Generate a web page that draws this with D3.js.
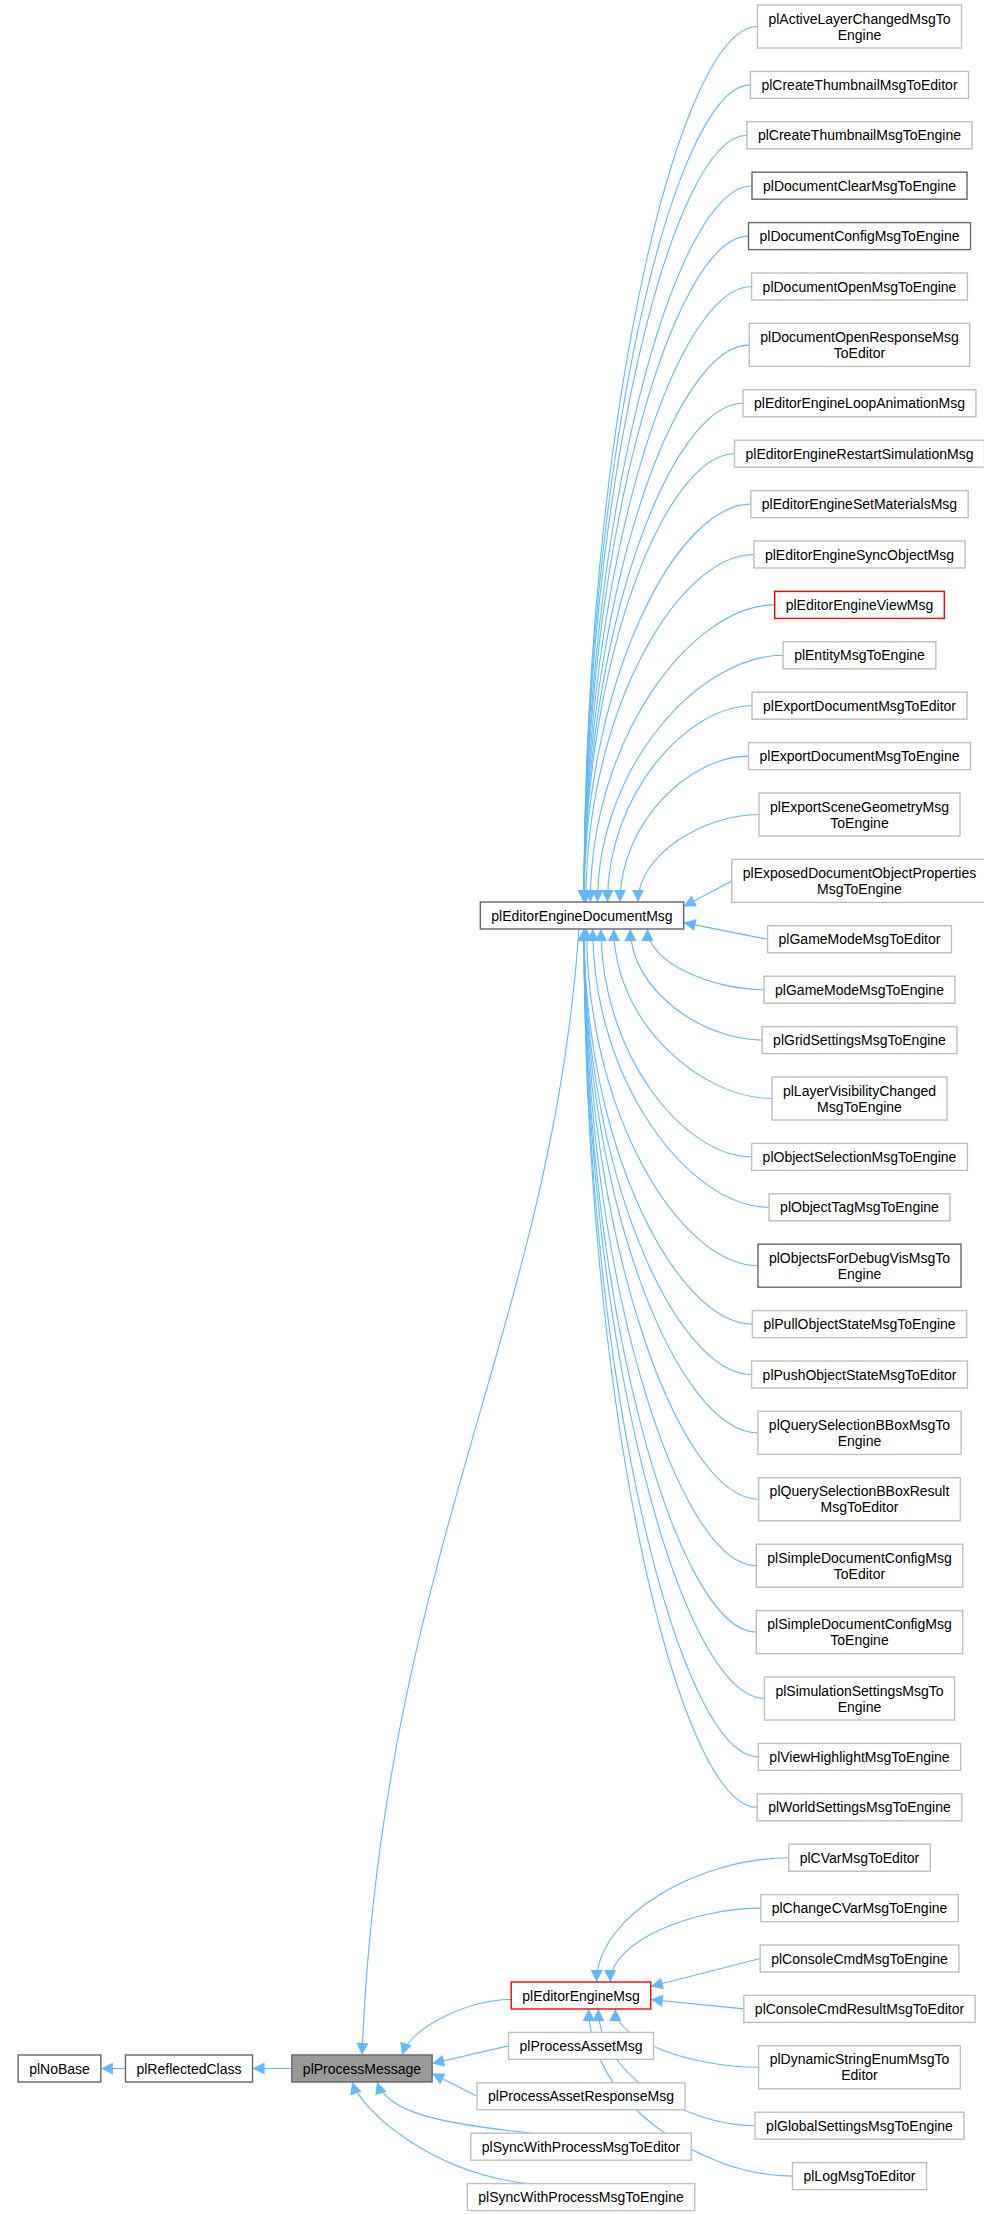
<!DOCTYPE html>
<html><head><meta charset="utf-8">
<script src="https://cdn.jsdelivr.net/npm/d3@7"></script>
<style>body{margin:0;background:#fff}</style>
</head><body><svg id="g"></svg>
<script>
// children of plEditorEngineDocumentMsg (top to bottom), "|" splits lines
const docChildren = [
  "plActiveLayerChangedMsgTo|Engine", "plCreateThumbnailMsgToEditor", "plCreateThumbnailMsgToEngine",
  "plDocumentClearMsgToEngine", "plDocumentConfigMsgToEngine", "plDocumentOpenMsgToEngine",
  "plDocumentOpenResponseMsg|ToEditor", "plEditorEngineLoopAnimationMsg", "plEditorEngineRestartSimulationMsg",
  "plEditorEngineSetMaterialsMsg", "plEditorEngineSyncObjectMsg", "plEditorEngineViewMsg",
  "plEntityMsgToEngine", "plExportDocumentMsgToEditor", "plExportDocumentMsgToEngine",
  "plExportSceneGeometryMsg|ToEngine", "plExposedDocumentObjectProperties|MsgToEngine", "plGameModeMsgToEditor",
  "plGameModeMsgToEngine", "plGridSettingsMsgToEngine", "plLayerVisibilityChanged|MsgToEngine",
  "plObjectSelectionMsgToEngine", "plObjectTagMsgToEngine", "plObjectsForDebugVisMsgTo|Engine",
  "plPullObjectStateMsgToEngine", "plPushObjectStateMsgToEditor", "plQuerySelectionBBoxMsgTo|Engine",
  "plQuerySelectionBBoxResult|MsgToEditor", "plSimpleDocumentConfigMsg|ToEditor", "plSimpleDocumentConfigMsg|ToEngine",
  "plSimulationSettingsMsgTo|Engine", "plViewHighlightMsgToEngine", "plWorldSettingsMsgToEngine"
];
const editorChildren = [
  "plCVarMsgToEditor", "plChangeCVarMsgToEngine", "plConsoleCmdMsgToEngine", "plConsoleCmdResultMsgToEditor",
  "plDynamicStringEnumMsgTo|Editor", "plGlobalSettingsMsgToEngine", "plLogMsgToEditor"
];
const processChildren = [
  "plEditorEngineMsg", "plProcessAssetMsg", "plProcessAssetResponseMsg",
  "plSyncWithProcessMsgToEditor", "plSyncWithProcessMsgToEngine"
];
const baseChain = ["plNoBase", "plReflectedClass", "plProcessMessage"];
const darkBorder = ["plDocumentClearMsgToEngine", "plDocumentConfigMsgToEngine", "plObjectsForDebugVisMsgTo|Engine",
  "plEditorEngineDocumentMsg", "plNoBase", "plReflectedClass", "plProcessMessage"];
const redBorder = ["plEditorEngineViewMsg", "plEditorEngineMsg"];

const W = 984, H = 2215, H1 = 27, H2 = 43, GAP = 23.4, FS = 14, PAD = 11;
const BLUE = "#63b8ff";
const svg = d3.select("#g").attr("width", W).attr("height", H)
  .style("font-family", "'Liberation Sans', Arial, sans-serif");

svg.append("defs").append("marker").attr("id", "ah")
  .attr("viewBox", "0 0 10 10").attr("refX", 10).attr("refY", 5)
  .attr("markerWidth", 15).attr("markerHeight", 12).attr("markerUnits", "userSpaceOnUse")
  .attr("orient", "auto")
  .append("path").attr("d", "M0,0L10,5L0,10Z").attr("fill", BLUE);

const meas = svg.append("text").attr("font-size", FS);
function tw(s) { meas.text(s); return meas.node().getComputedTextLength(); }

const nodes = {};
function mk(name, cx, top, fixedW) {
  const lines = name.split("|");
  const h = lines.length > 1 ? H2 : H1;
  const w = fixedW || d3.max(lines, tw) + PAD * 2;
  nodes[name] = { name, lines, x0: cx - w / 2, x1: cx + w / 2, y0: top, y1: top + h, cx, cy: top + h / 2 };
  return top + h;
}

// right column: doc children then editor children, stacked
let y = 5;
docChildren.concat(editorChildren).forEach(n => { y = mk(n, 859.5, y) + GAP; });
// middle column
y = 1982;
processChildren.forEach(n => { y = mk(n, 581, y) + GAP; });
mk("plEditorEngineDocumentMsg", 582, 902);
mk("plNoBase", 59.5, 2055);
mk("plReflectedClass", 189, 2055);
mk("plProcessMessage", 362, 2055);
meas.remove();

const edges = svg.append("g").attr("fill", "none").attr("stroke", BLUE).attr("stroke-width", 1.1);
function fan(child, parent, spreadX) {
  const c = nodes[child], p = nodes[parent];
  const sx = c.x0, sy = c.cy, dy = sy - p.cy;
  let tx, ty;
  if (Math.abs(dy) < 60) {
    tx = p.x1; ty = p.cy + Math.sign(dy) * Math.min(9, Math.abs(dy) * 0.3);
    edges.append("path").attr("d", `M${sx},${sy}L${tx},${ty}`).attr("marker-end", "url(#ah)");
    return;
  }
  const k = Math.max(0, 1 - Math.abs(dy) / spreadX);
  tx = p.cx + 2 + (p.x1 - p.cx - 8) * k * k;
  ty = dy < 0 ? p.y0 : p.y1;
  const c1x = sx - (sx - tx) * 0.45, c2y = ty + (sy - ty) * 0.55;
  edges.append("path")
    .attr("d", `M${sx},${sy}C${c1x},${sy} ${tx},${c2y} ${tx},${ty}`)
    .attr("marker-end", "url(#ah)");
}
docChildren.forEach(n => fan(n, "plEditorEngineDocumentMsg", 420));
editorChildren.forEach(n => fan(n, "plEditorEngineMsg", 260));

// process message children
processChildren.forEach((n, i) => {
  const c = nodes[n], p = nodes["plProcessMessage"];
  const sx = n === "plEditorEngineMsg" ? c.x0 : c.x0 + 6;
  const sy = n === "plEditorEngineMsg" ? c.cy + 4 : c.cy;
  let tx, ty;
  if (i === 1 || i === 2) { tx = p.x1; ty = p.cy + (i === 1 ? -5 : 5); }
  else { tx = p.x1 - 30 - (i === 4 ? 50 : i === 3 ? 25 : 0); ty = i === 0 ? p.y0 : p.y1; }
  const d = (i === 1 || i === 2) ? `M${c.x0},${sy}L${tx},${ty}`
    : `M${sx + (i > 2 ? 55 : 0)},${i > 2 ? c.y0 : sy}C${sx - 40},${i > 2 ? c.y0 - 10 : sy} ${tx + 10},${ty + (i === 0 ? -30 : 30)} ${tx},${ty}`;
  edges.append("path").attr("d", d).attr("marker-end", "url(#ah)");
});
// doc msg -> process message (long line)
{
  const c = nodes["plEditorEngineDocumentMsg"], p = nodes["plProcessMessage"];
  edges.append("path")
    .attr("d", `M${c.cx - 3},${c.y1}C${c.cx - 30},${c.y1 + 400} ${p.cx + 20},${p.y0 - 500} ${p.cx},${p.y0}`)
    .attr("marker-end", "url(#ah)");
}
// base chain
[[1, 0], [2, 1]].forEach(([a, b]) => {
  const c = nodes[baseChain[a]], p = nodes[baseChain[b]];
  edges.append("path").attr("d", `M${c.x0},${c.cy}L${p.x1},${p.cy}`).attr("marker-end", "url(#ah)");
});

// boxes
const box = svg.append("g").selectAll("g").data(Object.values(nodes)).join("g");
box.append("rect")
  .attr("x", d => d.x0).attr("y", d => d.y0)
  .attr("width", d => d.x1 - d.x0).attr("height", d => d.y1 - d.y0)
  .attr("fill", d => d.name === "plProcessMessage" ? "#999999" : "#fff")
  .attr("stroke", d => redBorder.includes(d.name) ? "#ff0000" : darkBorder.includes(d.name) ? "#666666" : "#bfbfbf")
  .attr("stroke-width", 1.4);
box.each(function (d) {
  const g = d3.select(this);
  const n = d.lines.length;
  d.lines.forEach((l, i) => {
    g.append("text").attr("x", d.cx).attr("y", d.cy + (i - (n - 1) / 2) * 16 + 5)
      .attr("text-anchor", "middle").attr("font-size", FS).attr("fill", "#000").text(l);
  });
});
</script></body></html>
